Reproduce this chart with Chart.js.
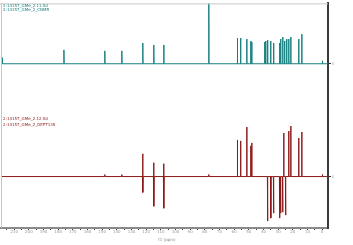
<!DOCTYPE html>
<html>
<head>
<meta charset="utf-8">
<script src="https://cdn.jsdelivr.net/npm/chart.js@4"></script>
<style>
  html, body { margin: 0; padding: 0; background: #fff; }
  canvas { display: block; }
</style>
</head>
<body>
<canvas id="nmr" width="353" height="245"></canvas>
<script>
// 13C spectrum peaks (ppm, intensity)
const cnmrShifts  = [218.3, 176.1, 148.2, 136.6, 122.3, 114.8, 108.0, 77.3, 57.8, 55.6, 51.4, 48.7, 48.0, 39.2, 38.5, 37.2, 35.1, 33.1, 29.0, 28.3, 26.9, 25.6, 24.2, 22.8, 21.4, 16.0, 13.9, -0.2];
const cnmrHeights = [6, 14, 13, 13, 21, 19, 19, 80, 26, 26, 25, 23, 22, 22, 23, 24, 23, 21, 21, 25, 27, 23, 25, 25, 27, 25, 30, 3];

// DEPT-135 peaks (ppm, intensity) - CH/CH3 up, CH2 down
const deptShifts  = [148.2, 136.6, 122.4, 122.2, 114.9, 114.7, 108.1, 107.9, 77.3, 57.8, 55.6, 51.4, 48.7, 48.0, 37.2, 35.0, 33.1, 29.0, 28.3, 26.9, 26.2, 24.9, 22.8, 21.4, 16.0, 13.9, -0.2];
const deptHeights = [2, 2, 23, -16, 14, -30, 13, -32, 2, 37, 36, 50, 31, 34, -45, -42, -37, -42, -37, -36, 44, -39, 46, 51, 39, 45, 2];

const xTickLabels = [210, 200, 190, 180, 170, 160, 150, 140, 130, 120, 110, 100, 90, 80, 70, 60, 50, 40, 30, 20, 10, 0];

const cnmrTitle = ['2:14157_GMe_2.11.fid', '2:14157_GMe_2_CNMR'];
const deptTitle = ['2:14157_GMe_2.12.fid', '2:14157_GMe_2_DEPT135'];

const teal = '#157f7e';
const darkRed = '#8c1818';

function buildSpectrum(shifts, heights){
    let pk = shifts.map((s, i) => ({s: s, h: heights[i]}));
    pk.sort((a, b) => b.s - a.s);
    let pts = [{x: 219, y: 0}];
    pk.forEach(p => {
        pts.push({x: p.s + 0.15, y: 0});
        pts.push({x: p.s, y: p.h});
        pts.push({x: p.s - 0.15, y: 0});
    });
    pts.push({x: -4, y: 0});
    return pts;
}

const framePlugin = {
    id: 'frame',
    afterDraw(chart){
        const ctx = chart.ctx;
        const a = chart.chartArea;
        ctx.save();
        ctx.strokeStyle = '#c8c8c8';
        ctx.lineWidth = 1;
        ctx.beginPath();
        ctx.moveTo(0, a.top + 0.5);
        ctx.lineTo(a.right, a.top + 0.5);
        ctx.moveTo(1.5, a.top);
        ctx.lineTo(1.5, a.bottom);
        ctx.stroke();

        ctx.font = '4px "DejaVu Sans"';
        ctx.textBaseline = 'top';
        const yt = chart.scales.yTop, yb = chart.scales.yBot;
        ctx.fillStyle = teal;
        ctx.fillText(cnmrTitle[0], 3, yt.top + 1);
        ctx.fillText(cnmrTitle[1], 3, yt.top + 5);
        ctx.fillStyle = darkRed;
        ctx.fillText(deptTitle[0], 3, yb.top + 1);
        ctx.fillText(deptTitle[1], 3, yb.top + 7);

        // axis title
        ctx.fillStyle = '#888';
        ctx.textAlign = 'center';
        ctx.fillText('f1 (ppm)', 167, a.bottom + 10);
        ctx.restore();
    }
};

function zeroTick(scale){
    scale.ticks = [{value: 0}];
}

new Chart(document.getElementById('nmr'), {
    type: 'line',
    data: {
        datasets: [
            {
                label: 'CNMR',
                data: buildSpectrum(cnmrShifts, cnmrHeights),
                yAxisID: 'yTop',
                borderColor: teal,
                borderWidth: 1,
                pointRadius: 0,
                tension: 0
            },
            {
                label: 'DEPT135',
                data: buildSpectrum(deptShifts, deptHeights),
                yAxisID: 'yBot',
                borderColor: darkRed,
                borderWidth: 1,
                pointRadius: 0,
                tension: 0
            }
        ]
    },
    plugins: [framePlugin],
    options: {
        responsive: false,
        animation: false,
        devicePixelRatio: 1,
        layout: { padding: { top: 1, left: 1, right: 0, bottom: 0 } },
        plugins: {
            legend: { display: false },
            tooltip: { enabled: false }
        },
        scales: {
            x: {
                type: 'linear',
                reverse: true,
                min: -4,
                max: 219,
                afterBuildTicks: (scale) => {
                    let t = [];
                    xTickLabels.forEach(v => { t.push({value: v + 5}); t.push({value: v}); });
                    scale.ticks = t.filter(o => o.value <= 219);
                },
                ticks: {
                    autoSkip: false,
                    maxRotation: 0,
                    padding: 0,
                    font: { size: 4, family: 'DejaVu Sans' },
                    color: '#999',
                    callback: (v) => (xTickLabels.includes(v) ? String(v) : '')
                },
                grid: { drawOnChartArea: false, tickLength: 2, color: '#444' },
                border: { color: '#8a8a8a', width: 2 },
                afterFit: (scale) => { scale.height = 17; }
            },
            yTop: {
                type: 'linear',
                position: 'right',
                stack: 'nmr',
                stackWeight: 1,
                min: -52.5,
                max: 61,
                afterBuildTicks: zeroTick,
                ticks: { font: { size: 4 }, color: '#aaa', padding: 1 },
                grid: { drawOnChartArea: false, tickLength: 3, color: '#333' },
                border: { color: '#3a3a3a', width: 2 },
                afterFit: (scale) => { scale.width = 25; }
            },
            yBot: {
                type: 'linear',
                position: 'right',
                stack: 'nmr',
                stackWeight: 1,
                min: -52,
                max: 61.5,
                afterBuildTicks: zeroTick,
                ticks: { font: { size: 4 }, color: '#aaa', padding: 1 },
                grid: { drawOnChartArea: false, tickLength: 3, color: '#333' },
                border: { color: '#3a3a3a', width: 2 },
                afterFit: (scale) => { scale.width = 25; }
            }
        }
    }
});
</script>
</body>
</html>
